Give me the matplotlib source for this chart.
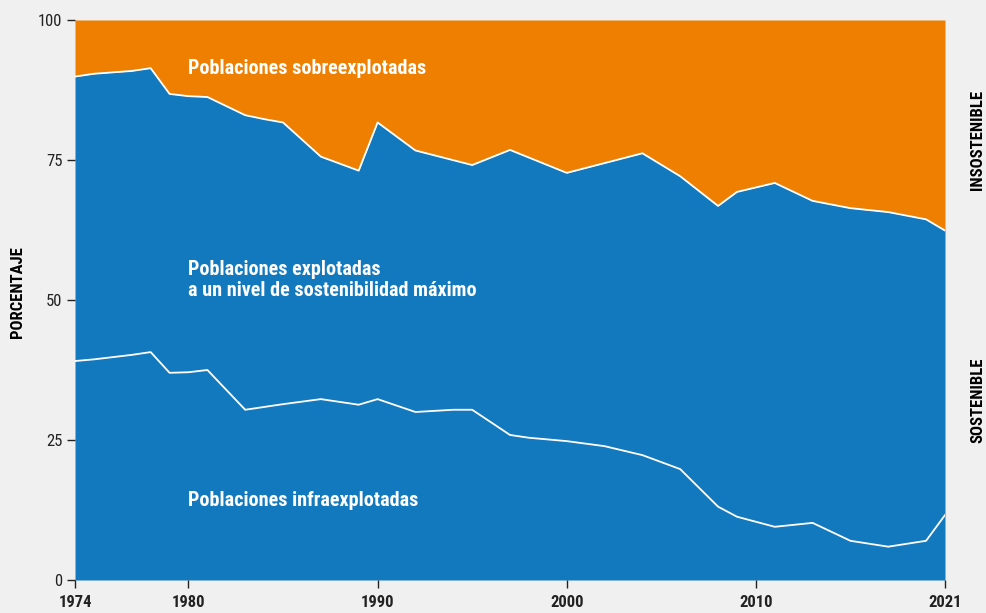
import matplotlib
matplotlib.use('Agg')
from matplotlib import pyplot as plt

# upper boundary: share of sustainable stocks (%)
top_years = [1974, 1975, 1977, 1978, 1979, 1980, 1981, 1983, 1984, 1985, 1987, 1989,
             1990, 1992, 1995, 1997, 2000, 2004, 2006, 2008, 2009, 2011, 2013, 2015,
             2017, 2019, 2020]
top_values = [89.9, 90.4, 90.9, 91.4, 86.8, 86.4, 86.25, 83.0, 82.3, 81.7, 75.6, 73.1,
              81.7, 76.7, 74.1, 76.8, 72.7, 76.2, 72.1, 66.8, 69.3, 70.9, 67.7, 66.4,
              65.7, 64.4, 62.4]

# lower boundary: share of underfished stocks (%)
low_years = [1974, 1975, 1977, 1978, 1979, 1980, 1981, 1983, 1985, 1987, 1989, 1990,
             1992, 1994, 1995, 1997, 1998, 2000, 2002, 2004, 2006, 2008, 2009, 2011,
             2013, 2015, 2017, 2019, 2020]
low_values = [39.1, 39.4, 40.2, 40.7, 37.0, 37.1, 37.5, 30.4, 31.4, 32.3, 31.3, 32.3,
              30.0, 30.4, 30.4, 25.9, 25.4, 24.8, 23.9, 22.3, 19.8, 13.1, 11.3, 9.5,
              10.2, 7.0, 5.95, 7.0, 11.6]

y_ticks = [0, 25, 50, 75, 100]
x_ticks = [1974, 1980, 1990, 2000, 2010, 2020]
x_labels = ['1974', '1980', '1990', '2000', '2010', '2021']

bg = '#f0f0f0'
orange = '#ef7f00'
blue = '#1379be'

plt.rcParams['font.family'] = ['Roboto Condensed', 'DejaVu Sans']
plt.rcParams['font.stretch'] = 'condensed'

fig = plt.figure(figsize=(9.87, 6.13), dpi=100, facecolor=bg)
ax = fig.add_axes([75 / 987, 1 - 580 / 613, 870 / 987, 560 / 613])
ax.set_facecolor(bg)

ax.fill_between(top_years, top_values, 100, color=orange, lw=0)
ax.fill_between(top_years, 0, top_values, color=blue, lw=0)
ax.plot(top_years, top_values, color='white', lw=1.3)
ax.plot(low_years, low_values, color='white', lw=1.3)

ax.set_xlim(top_years[0], top_years[-1])
ax.set_ylim(0, 100)
for s in ax.spines.values():
    s.set_visible(False)

ax.set_yticks(y_ticks)
ax.set_yticklabels([str(v) for v in y_ticks], fontsize=12, color='#222222')
ax.set_xticks(x_ticks)
ax.set_xticklabels(x_labels, fontsize=12, fontweight='bold', color='#222222')
ax.tick_params(axis='y', length=6, width=1, color='#222222', pad=3)
ax.tick_params(axis='x', length=6, width=1, color='#222222', pad=5)

fig.text(18 / 987, 1 - 292 / 613, 'PORCENTAJE', rotation=90, ha='center', va='center',
         fontsize=12, fontweight='bold')

txt = dict(color='white', fontsize=14.5, fontweight='bold', ha='left', va='center')
ax.text(1980, 91.4, 'Poblaciones sobreexplotadas', **txt)
ax.text(1980, 53.6, 'Poblaciones explotadas\na un nivel de sostenibilidad máximo',
        linespacing=1.1, **txt)
ax.text(1980, 14.2, 'Poblaciones infraexplotadas', **txt)

fig.text(978 / 987, 1 - 140 / 613, 'INSOSTENIBLE', rotation=90, ha='center', va='center',
         fontsize=12, fontweight='bold')
fig.text(978 / 987, 1 - 400 / 613, 'SOSTENIBLE', rotation=90, ha='center', va='center',
         fontsize=12, fontweight='bold')

fig.savefig('out.png', dpi=100, facecolor=bg)
